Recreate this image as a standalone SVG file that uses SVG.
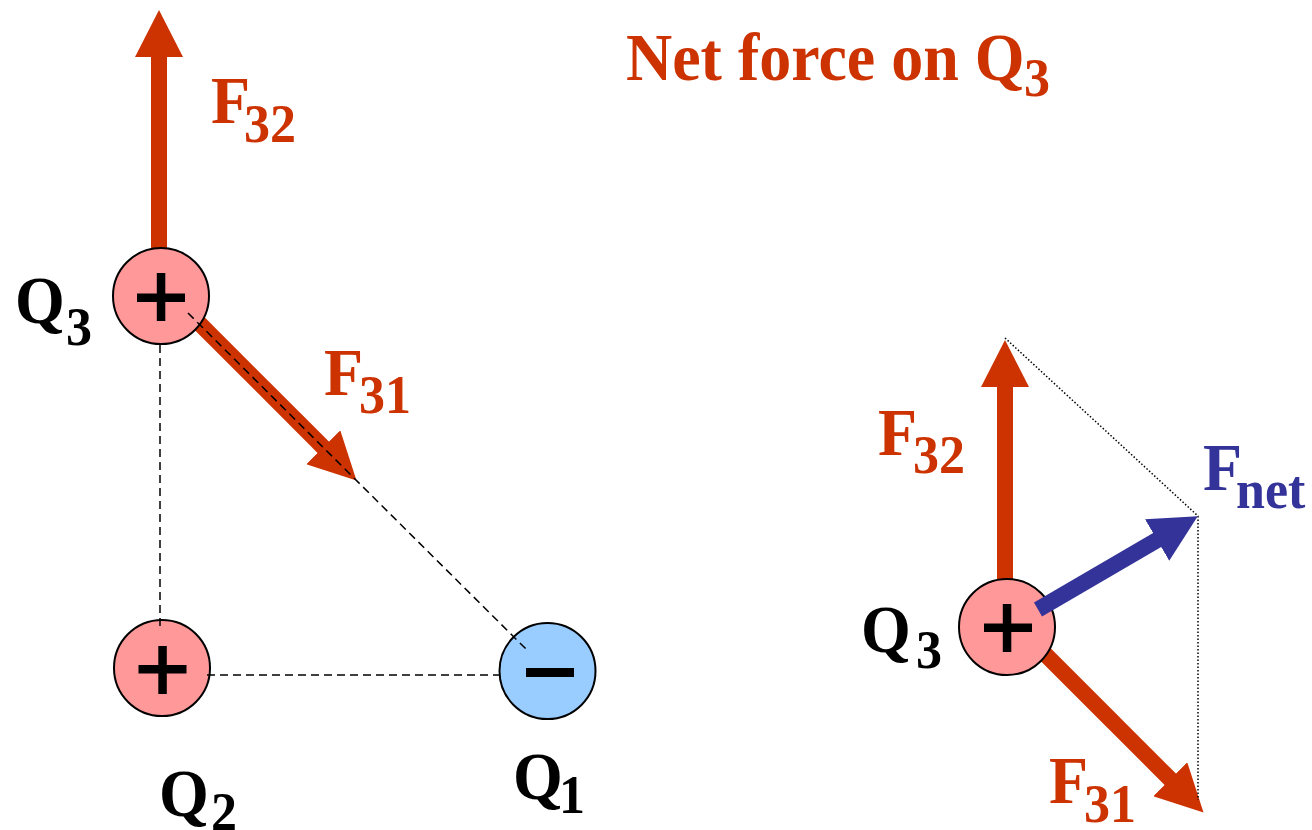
<svg xmlns="http://www.w3.org/2000/svg" width="1312" height="830" viewBox="0 0 1312 830">
<style>
.bg{fill:#ffffff}
.force{stroke:#CC3300;stroke-width:16;fill:none;stroke-linecap:butt}
.fnet{stroke:#333399;stroke-width:16;fill:none;stroke-linecap:butt}
.guide{stroke:#000000;stroke-width:1.5;stroke-dasharray:8 5;fill:none}
.dot{stroke:#000000;stroke-width:1.5;stroke-dasharray:1.5 2;fill:none}
.pos{fill:#FF9999;stroke:#000000;stroke-width:2}
.neg{fill:#99CCFF;stroke:#000000;stroke-width:2}
.sign{fill:#000000}
text{font-family:"Liberation Serif","Times New Roman",serif;font-weight:bold;font-size:64px}
.sub{font-size:52px}
.red{fill:#CC3300}
.blue{fill:#333399}
.blk{fill:#000000}
</style>
<defs>
<marker id="headRed" viewBox="0 -24 48 48" markerUnits="userSpaceOnUse" markerWidth="48" markerHeight="48" refX="1" refY="0" orient="auto">
<path d="M0,-24 L47,0 L0,24 Z" fill="#CC3300"/>
</marker>
<marker id="headBlue" viewBox="0 -24 48 48" markerUnits="userSpaceOnUse" markerWidth="48" markerHeight="48" refX="1" refY="0" orient="auto">
<path d="M0,-24 L47,0 L0,24 Z" fill="#333399"/>
</marker>
</defs>
<rect class="bg" x="0" y="0" width="1312" height="830"/>

<g id="connectors-under">
<line class="force" x1="159" y1="270" x2="159" y2="56" marker-end="url(#headRed)"/>
<line class="force" x1="180" y1="304" x2="324" y2="448" marker-end="url(#headRed)"/>
<line class="force" x1="1005" y1="600" x2="1005" y2="386" marker-end="url(#headRed)"/>
<line class="force" x1="1025" y1="634" x2="1171" y2="780" marker-end="url(#headRed)"/>
</g>

<g id="node-q3-left">
<circle class="pos" cx="161" cy="296" r="48"/>
<rect class="sign" x="137" y="293.5" width="48" height="8.5"/>
<rect class="sign" x="156.8" y="273" width="8.5" height="48"/>
</g>
<g id="node-q2">
<circle class="pos" cx="162" cy="668" r="48"/>
<rect class="sign" x="138.5" y="665" width="48" height="8.5"/>
<rect class="sign" x="158.3" y="646" width="8.5" height="48"/>
</g>
<g id="node-q1">
<circle class="neg" cx="547.5" cy="671" r="48"/>
<rect class="sign" x="526" y="668" width="48" height="9"/>
</g>
<g id="node-q3-right">
<circle class="pos" cx="1007" cy="627" r="48"/>
<rect class="sign" x="984" y="623.5" width="48" height="8.5"/>
<rect class="sign" x="1002.8" y="604" width="8.5" height="48"/>
</g>

<g id="connectors-over">
<line class="guide" x1="188" y1="313" x2="527" y2="650"/>
<line class="guide" x1="160" y1="345" x2="160" y2="627"/>
<line class="guide" x1="207" y1="675" x2="499" y2="675"/>
<polyline class="dot" points="1005,338 1198,516 1198,800"/>
<line class="fnet" x1="1038" y1="609.5" x2="1158" y2="539.5" marker-end="url(#headBlue)"/>
</g>

<g id="labels">
<text class="red" transform="matrix(1 0 0 1.06 626 80)">Net force on Q<tspan class="sub" x="398" y="15">3</tspan></text>
<text class="red" transform="matrix(1 0 0 1.06 211 123)">F<tspan class="sub" x="33" y="18">32</tspan></text>
<text class="red" transform="matrix(1 0 0 1.06 324 395)">F<tspan class="sub" x="35" y="17">31</tspan></text>
<text class="red" transform="matrix(1 0 0 1.06 878 455)">F<tspan class="sub" x="35" y="17">32</tspan></text>
<text class="red" transform="matrix(1 0 0 1.06 1049 803)">F<tspan class="sub" x="35" y="18">31</tspan></text>
<text class="blue" transform="matrix(1 0 0 1.06 1203 490)">F<tspan class="sub" x="33" y="17">net</tspan></text>
<text class="blk" transform="matrix(1 0 0 1.06 15 323)">Q<tspan class="sub" x="51" y="21">3</tspan></text>
<text class="blk" transform="matrix(1 0 0 1.06 861 652)">Q<tspan class="sub" x="55" y="15">3</tspan></text>
<text class="blk" transform="matrix(1 0 0 1.06 159 816)">Q<tspan class="sub" x="52" y="13">2</tspan></text>
<text class="blk" transform="matrix(1 0 0 1.06 513 799)">Q<tspan class="sub" x="46" y="13">1</tspan></text>
</g>
</svg>
